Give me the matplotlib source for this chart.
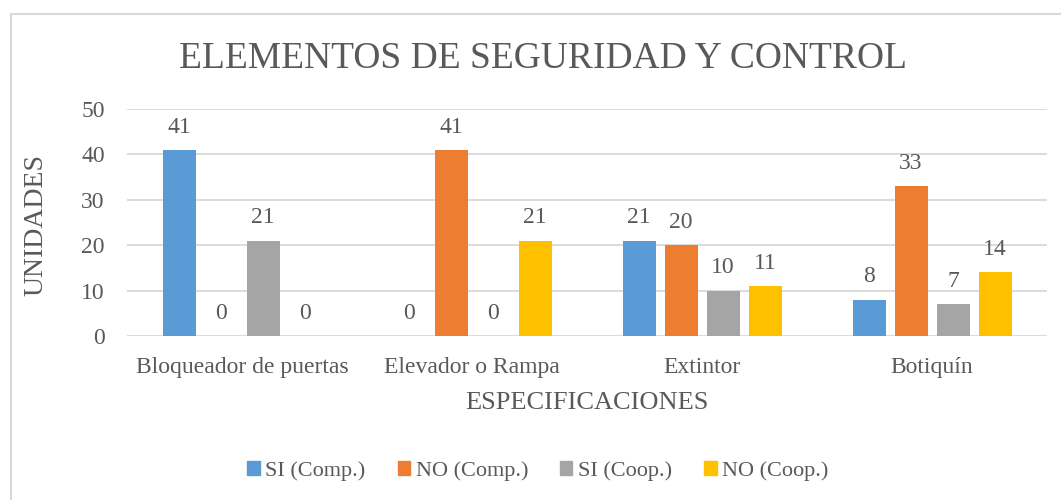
import matplotlib.pyplot as plt
import matplotlib.patches as mpatches
import numpy as np

categorias = ['Bloqueador de puertas', 'Elevador o Rampa', 'Extintor', 'Botiquín']
series = ['SI (Comp.)', 'NO (Comp.)', 'SI (Coop.)', 'NO (Coop.)']
si_comp = [41, 0, 21, 8]
no_comp = [0, 41, 20, 33]
si_coop = [21, 0, 10, 7]
no_coop = [0, 21, 11, 14]
colores = ['#5b9bd5', '#ed7d31', '#a5a5a5', '#ffc000']

plt.rcParams['font.family'] = ['Liberation Serif', 'DejaVu Serif']
gris = '#595959'

fig = plt.figure(figsize=(10.61, 5.0), dpi=100)
ax = fig.add_axes([127/1061, 1 - 336/500, 920/1061, 227/500])

# borde del grafico (se sale por derecha y abajo)
fig.patches.append(mpatches.Rectangle((11/1061, -0.1), 1.2, 1 - 14/500 + 0.1,
                                      transform=fig.transFigure, fill=False,
                                      edgecolor='#d9d9d9', linewidth=1.5))

x = np.arange(len(categorias))
ancho = 33/230
paso = 42/230
for k, (vals, nombre) in enumerate(zip([si_comp, no_comp, si_coop, no_coop], series)):
    pos = x + (k - 1.5) * paso
    barras = ax.bar(pos, vals, width=ancho, color=colores[k], label=nombre, zorder=3)
    for b, v in zip(barras, vals):
        ax.text(b.get_x() + b.get_width()/2, v + 5.0, str(v), ha='center', va='center',
                fontsize=17, color=gris)

ax.set_xlim(-0.5, len(categorias) - 0.5)
ax.set_ylim(0, 50)
ax.set_yticks(range(0, 51, 10))
ax.set_xticks(x)
ax.set_xticklabels(categorias)
ax.tick_params(axis='both', length=0, labelsize=17, labelcolor=gris)
ax.tick_params(axis='x', pad=15)
ax.tick_params(axis='y', pad=16)
ax.grid(axis='y', color='#d9d9d9', linewidth=1.3, zorder=0)
for s in ax.spines.values():
    s.set_visible(False)

fig.text(36/1061, 1 - 225/500, 'UNIDADES', rotation=90, ha='center', va='center',
         fontsize=20, color=gris)
fig.text(587/1061, 1 - 403/500, 'ESPECIFICACIONES', ha='center', va='center',
         fontsize=19, color=gris)
fig.text(543/1061, 1 - 59/500, 'ELEMENTOS DE SEGURIDAD Y CONTROL', ha='center', va='center',
         fontsize=27, color=gris)

handles = [mpatches.Patch(color=c, label=s) for c, s in zip(colores, series)]
fig.legend(handles=handles, loc='center', bbox_to_anchor=(538/1061, 1 - 471/500), ncol=4,
           frameon=False, fontsize=16, labelcolor=gris, handlelength=0.55, handleheight=0.55,
           handletextpad=0.25, columnspacing=1.45)

plt.savefig('out.png', dpi=100)
